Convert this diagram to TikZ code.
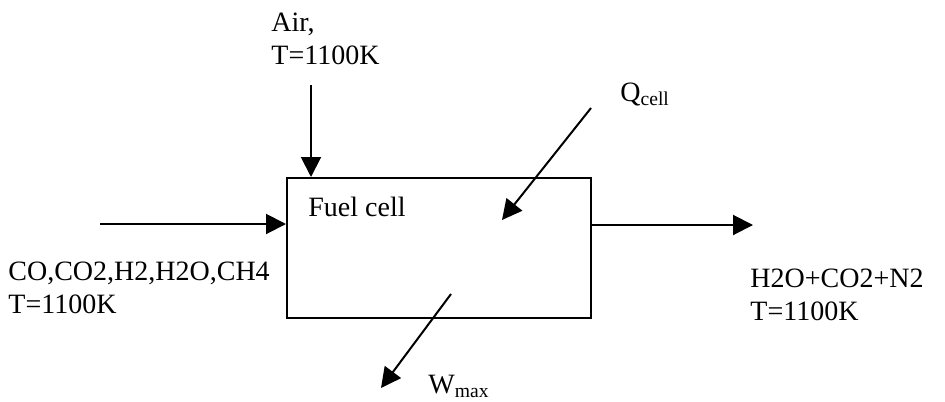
\documentclass[tikz,border=0pt]{standalone}
\usepackage{fontspec}
\setmainfont{Liberation Serif}
\usetikzlibrary{arrows.meta,positioning}

\begin{document}
\begin{tikzpicture}[x=0.5pt, y=-0.5pt,
  every node/.style={font=\fontsize{14}{16.5}\selectfont, inner sep=0pt},
  flow/.style={-{Triangle[length=10pt,width=10pt]}, line width=1pt},
  cellbox/.style={draw, line width=1pt, minimum width=152pt, minimum height=70pt},
  lbl/.style={anchor=base west, align=left},
]
\useasboundingbox (0,0) rectangle (945,401);
\node[cellbox] (cell) at (439,248) {};
\node[lbl] (celltxt) at (308,216) {Fuel cell};
% streams in and out
\coordinate (airsrc) at (311,85);
\coordinate (fuelsrc) at (100,224);
\coordinate (exhaust) at (753,225);
\coordinate (qsrc) at (591,108);
\coordinate (qend) at (502,220);
\coordinate (wsrc) at (451,294);
\coordinate (wend) at (381,388);
\draw[flow] (airsrc) -- (airsrc |- cell.north);
\draw[flow] (fuelsrc) -- (fuelsrc -| cell.west);
\draw[flow] (cell.east |- exhaust) -- (exhaust);
\draw[flow] (qsrc) -- (qend);
\draw[flow] (wsrc) -- (wend);
% labels (base = last line)
\node[lbl] (airtxt) at (271,65) {Air,\\T=1100K};
\node[lbl] (fueltxt) at (8,313) {CO,CO2,H2,H2O,CH4\\T=1100K};
\node[lbl] (exhtxt) at (750,320) {H2O+CO2+N2\\T=1100K};
\node[lbl] (qtxt) at (620,101) {Q\textsubscript{cell}};
\node[lbl] (wtxt) at (428,393) {W\textsubscript{max}};
\end{tikzpicture}
\end{document}
